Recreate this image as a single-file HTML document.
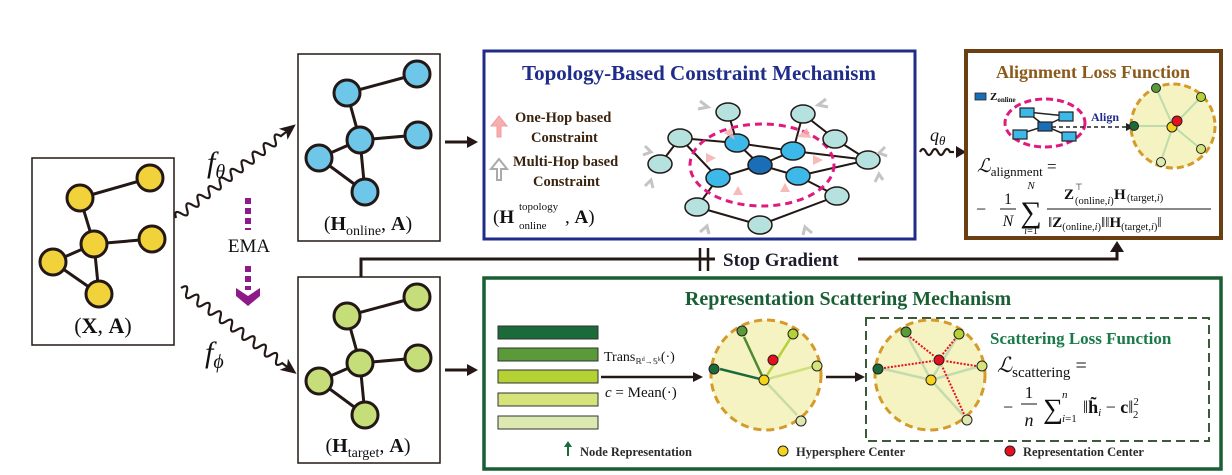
<!DOCTYPE html>
<html><head><meta charset="utf-8"><style>
html,body{margin:0;padding:0;background:#fff;}
svg{display:block;}
text{font-family:"Liberation Serif",serif;}
</style></head><body>
<svg width="1232" height="475" viewBox="0 0 1232 475" xmlns="http://www.w3.org/2000/svg">

<!-- Left input box -->
<rect x="32" y="158" width="142" height="187" fill="#fff" stroke="#231815" stroke-width="1.5"/>
<g stroke="#231815" stroke-width="3">
<line x1="80" y1="198" x2="150" y2="178"/><line x1="80" y1="198" x2="94" y2="244"/>
<line x1="94" y1="244" x2="152" y2="239"/><line x1="94" y1="244" x2="53" y2="262"/>
<line x1="94" y1="244" x2="99" y2="294"/><line x1="53" y1="262" x2="99" y2="294"/>
</g>
<g fill="#f1d23a" stroke="#231815" stroke-width="3">
<circle cx="80" cy="198" r="13"/><circle cx="150" cy="178" r="13"/><circle cx="94" cy="244" r="13"/>
<circle cx="152" cy="239" r="13"/><circle cx="53" cy="262" r="13"/><circle cx="99" cy="294" r="13"/>
</g>
<text x="103" y="333" font-size="22" text-anchor="middle" fill="#111">(<tspan font-weight="bold">X</tspan>, <tspan font-weight="bold">A</tspan>)</text>

<!-- Online box -->
<rect x="298" y="54" width="142" height="187" fill="#fff" stroke="#231815" stroke-width="1.5"/>
<g stroke="#231815" stroke-width="3">
<line x1="347" y1="93" x2="417" y2="74"/><line x1="347" y1="93" x2="360" y2="140"/>
<line x1="360" y1="140" x2="418" y2="135"/><line x1="360" y1="140" x2="319" y2="158"/>
<line x1="360" y1="140" x2="365" y2="192"/><line x1="319" y1="158" x2="365" y2="192"/>
</g>
<g fill="#6ec6e8" stroke="#231815" stroke-width="3">
<circle cx="347" cy="93" r="13"/><circle cx="417" cy="74" r="13"/><circle cx="360" cy="140" r="13"/>
<circle cx="418" cy="135" r="13"/><circle cx="319" cy="158" r="13"/><circle cx="365" cy="192" r="13"/>
</g>
<text x="368" y="230" font-size="20" text-anchor="middle" fill="#111">(<tspan font-weight="bold">H</tspan><tspan font-size="14" dy="5">online</tspan><tspan dy="-5">, </tspan><tspan font-weight="bold">A</tspan>)</text>

<!-- Target box -->
<rect x="298" y="277" width="142" height="186" fill="#fff" stroke="#231815" stroke-width="1.5"/>
<g stroke="#231815" stroke-width="3">
<line x1="347" y1="316" x2="417" y2="297"/><line x1="347" y1="316" x2="360" y2="363"/>
<line x1="360" y1="363" x2="418" y2="358"/><line x1="360" y1="363" x2="319" y2="381"/>
<line x1="360" y1="363" x2="365" y2="415"/><line x1="319" y1="381" x2="365" y2="415"/>
</g>
<g fill="#c5de7a" stroke="#231815" stroke-width="3">
<circle cx="347" cy="316" r="13"/><circle cx="417" cy="297" r="13"/><circle cx="360" cy="363" r="13"/>
<circle cx="418" cy="358" r="13"/><circle cx="319" cy="381" r="13"/><circle cx="365" cy="415" r="13"/>
</g>
<text x="368" y="452" font-size="20" text-anchor="middle" fill="#111">(<tspan font-weight="bold">H</tspan><tspan font-size="14" dy="5">target</tspan><tspan dy="-5">, </tspan><tspan font-weight="bold">A</tspan>)</text>

<!-- wavy arrows -->
<g fill="none" stroke="#231815" stroke-width="2.2">
<path transform="translate(176,218) rotate(-38)" d="M0,0 q3.5,-9 7,0 t7,0 t7,0 t7,0 t7,0 t7,0 t7,0 t7,0 t7,0 t7,0 t7,0 t7,0 t7,0 t7,0 t7,0 t7,0 t7,0 t7,0 t7,0 L140,0"/>
<path transform="translate(181,288) rotate(36.6)" d="M0,0 q3.5,-9 7,0 t7,0 t7,0 t7,0 t7,0 t7,0 t7,0 t7,0 t7,0 t7,0 t7,0 t7,0 t7,0 t7,0 t7,0 t7,0 t7,0 t7,0 L132,0"/>
<path transform="translate(920,152)" d="M0,0 q3,-6 6,0 t6,0 t6,0 t6,0 t6,0 L34,0"/>
</g>
<polygon transform="translate(176,218) rotate(-38)" points="136,-7 152,0 136,7 140,0" fill="#231815"/>
<polygon transform="translate(181,288) rotate(36.6)" points="128,-7 144,0 128,7 132,0" fill="#231815"/>
<polygon points="956,146 966,152 956,158" fill="#231815"/>
<text x="207" y="172" font-size="30" font-style="italic" fill="#111">f<tspan font-size="20" dy="6">θ</tspan></text>
<text x="205" y="362" font-size="30" font-style="italic" fill="#111">f<tspan font-size="20" dy="6">ϕ</tspan></text>
<text x="930" y="141" font-size="18" font-style="italic" fill="#111">q<tspan font-size="13" dy="4">θ</tspan></text>

<!-- EMA -->
<line x1="248" y1="198" x2="248" y2="230" stroke="#8e1a8a" stroke-width="6" stroke-dasharray="6,4"/>
<text x="249" y="252" font-size="19" text-anchor="middle" fill="#111">EMA</text>
<line x1="248" y1="266" x2="248" y2="290" stroke="#8e1a8a" stroke-width="6" stroke-dasharray="6,4"/>
<polygon points="236,288 248,296 260,288 260,296 248,306 236,296" fill="#8e1a8a"/>

<!-- arrows to mechanisms -->
<line x1="445" y1="142" x2="470" y2="142" stroke="#231815" stroke-width="3"/>
<polygon points="467,136 478,142 467,148" fill="#231815"/>
<line x1="445" y1="370" x2="470" y2="370" stroke="#231815" stroke-width="3"/>
<polygon points="467,364 478,370 467,376" fill="#231815"/>

<!-- Stop gradient -->
<polyline points="361,277 361,259 1117,259 1117,250" fill="none" stroke="#231815" stroke-width="3"/>
<polygon points="1110,252 1117,241 1124,252" fill="#231815"/>
<rect x="715" y="248" width="143" height="22" fill="#fff"/>
<line x1="700" y1="248" x2="700" y2="271" stroke="#231815" stroke-width="2.5"/>
<line x1="708" y1="248" x2="708" y2="271" stroke="#231815" stroke-width="2.5"/>
<text x="723" y="266" font-size="19" font-weight="bold" fill="#1c1c2c">Stop Gradient</text>

<!-- Topology box -->
<rect x="484" y="51" width="431" height="188" fill="#fff" stroke="#1f2c8a" stroke-width="3"/>
<text x="699" y="80" font-size="21" font-weight="bold" text-anchor="middle" fill="#1f2c8a">Topology-Based Constraint Mechanism</text>
<path d="M497,137 v-11 h-6 l8,-10 l8,10 h-6 v11 z" fill="#f6aeb0" stroke="#f39a9e" stroke-width="1"/>
<text x="515" y="122" font-size="14.5" font-weight="bold" fill="#3a2410">One-Hop based</text>
<text x="531" y="142" font-size="14.5" font-weight="bold" fill="#3a2410">Constraint</text>
<path d="M497,180 v-11 h-6 l8,-10 l8,10 h-6 v11 z" fill="#fff" stroke="#aaa" stroke-width="2"/>
<text x="513" y="166" font-size="14.5" font-weight="bold" fill="#3a2410">Multi-Hop based</text>
<text x="533" y="186" font-size="14.5" font-weight="bold" fill="#3a2410">Constraint</text>
<text x="493" y="223" font-size="19" fill="#111">(<tspan font-weight="bold">H</tspan></text>
<text x="519" y="210" font-size="11" fill="#111">topology</text>
<text x="519" y="229" font-size="11" fill="#111">online</text>
<text x="565" y="223" font-size="19" fill="#111">, <tspan font-weight="bold">A</tspan>)</text>
<g stroke="#231815" stroke-width="2">
<line x1="728" y1="112" x2="737" y2="143"/><line x1="803" y1="114" x2="793" y2="151"/>
<line x1="680" y1="138" x2="737" y2="143"/><line x1="680" y1="138" x2="660" y2="164"/>
<line x1="680" y1="138" x2="718" y2="178"/><line x1="737" y1="143" x2="760" y2="165"/>
<line x1="737" y1="143" x2="793" y2="151"/><line x1="793" y1="151" x2="760" y2="165"/>
<line x1="793" y1="151" x2="868" y2="160"/><line x1="835" y1="139" x2="868" y2="160"/>
<line x1="803" y1="114" x2="835" y2="139"/><line x1="760" y1="165" x2="718" y2="178"/>
<line x1="760" y1="165" x2="798" y2="176"/><line x1="798" y1="176" x2="868" y2="160"/>
<line x1="798" y1="176" x2="837" y2="196"/><line x1="718" y1="178" x2="697" y2="207"/>
<line x1="697" y1="207" x2="760" y2="225"/><line x1="760" y1="225" x2="837" y2="196"/>
</g>
<ellipse cx="762" cy="165" rx="72" ry="41" fill="none" stroke="#e0197f" stroke-width="3" stroke-dasharray="7,5"/>
<g stroke="#231815" stroke-width="1.5">
<g fill="#b5e1df">
<ellipse cx="728" cy="112" rx="12" ry="9"/><ellipse cx="803" cy="114" rx="12" ry="9"/>
<ellipse cx="680" cy="138" rx="12" ry="9"/><ellipse cx="835" cy="139" rx="12" ry="9"/>
<ellipse cx="660" cy="164" rx="12" ry="9"/><ellipse cx="868" cy="160" rx="12" ry="9"/>
<ellipse cx="697" cy="207" rx="12" ry="9"/><ellipse cx="837" cy="196" rx="12" ry="9"/>
<ellipse cx="760" cy="225" rx="12" ry="9"/>
</g>
<g fill="#3cb9e8">
<ellipse cx="737" cy="143" rx="12" ry="9"/><ellipse cx="793" cy="151" rx="12" ry="9"/>
<ellipse cx="718" cy="178" rx="12" ry="9"/><ellipse cx="798" cy="176" rx="12" ry="9"/>
</g>
<ellipse cx="760" cy="165" rx="12" ry="9" fill="#1a6eb5"/>
</g>
<g fill="#f6aeb0" opacity="0.85">
<polygon points="724,133 735,140 731,128"/><polygon points="807,128 797,137 811,138"/>
<polygon points="706,163 716,158 706,153"/><polygon points="823,160 813,155 813,165"/>
<polygon points="733,195 738,186 743,195"/><polygon points="780,192 785,183 790,192"/>
</g>
<g fill="none" stroke="#c4c4c4" stroke-width="3">
<path d="M700,101 l8,6 l-10,2"/><path d="M826,99 l-8,6 l10,2"/>
<path d="M645,146 l6,6 l-8,3"/><path d="M885,147 l-6,6 l8,3"/>
<path d="M645,186 l6,-6 l2,8"/><path d="M883,180 l-4,-6 l-4,8"/>
<path d="M700,232 l7,-6 l2,8"/><path d="M812,233 l-7,-6 l-2,8"/>
</g>

<!-- Alignment box -->
<rect x="966" y="51" width="255" height="187" fill="#fff" stroke="#6b3f12" stroke-width="4"/>
<text x="1093" y="78" font-size="18" font-weight="bold" text-anchor="middle" fill="#8b5a1a">Alignment Loss Function</text>
<rect x="975" y="93" width="11" height="7" fill="#1a6eb5" stroke="#222" stroke-width="0.8"/>
<text x="990" y="100" font-size="11" font-weight="bold" fill="#111">Z<tspan font-size="7" dy="2">online</tspan></text>
<ellipse cx="1045" cy="123" rx="40" ry="24" fill="none" stroke="#e0197f" stroke-width="3" stroke-dasharray="7,4"/>
<g stroke="#222" stroke-width="1.5">
<line x1="1027" y1="112" x2="1045" y2="126"/><line x1="1027" y1="112" x2="1066" y2="116"/>
<line x1="1045" y1="126" x2="1066" y2="116"/><line x1="1045" y1="126" x2="1020" y2="134"/>
<line x1="1045" y1="126" x2="1069" y2="136"/>
</g>
<g stroke="#222" stroke-width="1.2" fill="#3cb9e8">
<rect x="1020" y="108" width="14" height="9"/><rect x="1059" y="112" width="14" height="9"/>
<rect x="1013" y="130" width="14" height="9"/><rect x="1062" y="132" width="14" height="9"/>
<rect x="1038" y="122" width="14" height="9" fill="#1a6eb5"/>
</g>
<text x="1091" y="121" font-size="12" font-weight="bold" fill="#1f2c8a">Align</text>
<line x1="1052" y1="127" x2="1128" y2="127" stroke="#222" stroke-width="1.5" stroke-dasharray="4,3"/>
<polygon points="1126,123 1134,127 1126,131" fill="#222"/>
<circle cx="1173" cy="126" r="42" fill="#f6f3c3" stroke="#d49a2a" stroke-width="3" stroke-dasharray="7,4"/>
<g stroke="#bcdcaa" stroke-width="2">
<line x1="1173" y1="126" x2="1137" y2="126"/><line x1="1173" y1="126" x2="1157" y2="90"/>
<line x1="1173" y1="126" x2="1201" y2="97"/><line x1="1173" y1="126" x2="1201" y2="149"/>
<line x1="1173" y1="126" x2="1161" y2="161"/>
</g>
<g stroke="#222" stroke-width="1">
<circle cx="1134" cy="126" r="4.5" fill="#1a6a3a"/><circle cx="1156" cy="88" r="4.5" fill="#5a9a38"/>
<circle cx="1201" cy="97" r="4.5" fill="#b5d235"/><circle cx="1201" cy="149" r="4.5" fill="#d6e37a"/>
<circle cx="1161" cy="162" r="4.5" fill="#dce9b0"/>
<circle cx="1172" cy="127" r="5" fill="#f6d21a"/><circle cx="1177" cy="121" r="5" fill="#e8101e"/>
</g>
<text x="977" y="172" font-size="19" font-style="italic" fill="#111">ℒ<tspan font-style="normal" font-size="13" dy="4">alignment</tspan><tspan font-style="normal" font-size="17" dy="-4"> =</tspan></text>
<text x="976" y="215" font-size="18" fill="#111">−</text>
<text x="1008" y="204" font-size="16" text-anchor="middle" fill="#111">1</text>
<line x1="1000" y1="209" x2="1016" y2="209" stroke="#111" stroke-width="1"/>
<text x="1008" y="226" font-size="16" font-style="italic" text-anchor="middle" fill="#111">N</text>
<text x="1031" y="189" font-size="11" font-style="italic" text-anchor="middle" fill="#111">N</text>
<text x="1031" y="222" font-size="30" text-anchor="middle" fill="#111">∑</text>
<text x="1031" y="234" font-size="10" text-anchor="middle" fill="#111"><tspan font-style="italic">i</tspan>=1</text>
<line x1="1047" y1="209" x2="1211" y2="209" stroke="#111" stroke-width="1"/>
<text x="1064" y="199" font-size="15" fill="#111"><tspan font-weight="bold">Z</tspan></text>
<text x="1075" y="190" font-size="9" fill="#111">⊤</text>
<text x="1075" y="204" font-size="10.5" fill="#111">(online,<tspan font-style="italic">i</tspan>)</text>
<text x="1114" y="199" font-size="15" font-weight="bold" fill="#111">H</text>
<text x="1127" y="201" font-size="10.5" fill="#111">(target,<tspan font-style="italic">i</tspan>)</text>
<text x="1048" y="227" font-size="15" fill="#111">‖<tspan font-weight="bold">Z</tspan><tspan font-size="10.5" dy="3">(online,<tspan font-style="italic">i</tspan>)</tspan><tspan dy="-3">‖‖</tspan><tspan font-weight="bold">H</tspan><tspan font-size="10.5" dy="3">(target,<tspan font-style="italic">i</tspan>)</tspan><tspan dy="-3">‖</tspan></text>

<!-- Representation box -->
<rect x="484" y="278" width="737" height="191" fill="#fff" stroke="#1a5e34" stroke-width="3.5"/>
<text x="848" y="305" font-size="20" font-weight="bold" text-anchor="middle" fill="#1a5e34">Representation Scattering Mechanism</text>
<g stroke="#333" stroke-width="1">
<rect x="498" y="326" width="100" height="13" fill="#1a6a3a"/>
<rect x="498" y="348" width="100" height="13" fill="#5a9a38"/>
<rect x="498" y="370" width="100" height="13" fill="#b5d235"/>
<rect x="498" y="393" width="100" height="13" fill="#d6e37a"/>
<rect x="498" y="416" width="100" height="13" fill="#dce9b0"/>
</g>
<text x="604" y="361" font-size="14" fill="#111">Trans<tspan font-size="8" dy="3">ℝ</tspan><tspan font-size="6" dy="-3">d</tspan><tspan font-size="8" dy="3">→𝕊</tspan><tspan font-size="6" dy="-3">k</tspan><tspan font-size="14">(·)</tspan></text>
<line x1="601" y1="377" x2="695" y2="377" stroke="#231815" stroke-width="2.5"/>
<polygon points="693,372 703,377 693,382" fill="#231815"/>
<text x="605" y="397" font-size="15" fill="#111"><tspan font-style="italic">c</tspan> = Mean(·)</text>
<circle cx="766" cy="375" r="55" fill="#f6f3c3" stroke="#d49a2a" stroke-width="3" stroke-dasharray="8,5"/>
<g stroke-width="2.5">
<line x1="764" y1="380" x2="720" y2="369" stroke="#1a6a3a"/>
<line x1="764" y1="380" x2="744" y2="337" stroke="#4f8a30"/>
<line x1="764" y1="380" x2="790" y2="339" stroke="#b5d235"/>
<line x1="764" y1="380" x2="812" y2="367" stroke="#cfe07f"/>
<line x1="764" y1="380" x2="797" y2="415" stroke="#c9dca4"/>
</g>
<g stroke="#222" stroke-width="1">
<circle cx="714" cy="369" r="5" fill="#1a6a3a"/><circle cx="742" cy="331" r="5" fill="#5a9a38"/>
<circle cx="793" cy="334" r="5" fill="#b5d235"/><circle cx="817" cy="366" r="5" fill="#d6e37a"/>
<circle cx="801" cy="421" r="5" fill="#dce9b0"/>
<circle cx="764" cy="380" r="5" fill="#f6d21a"/><circle cx="773" cy="360" r="5" fill="#e8101e"/>
</g>
<line x1="826" y1="377" x2="857" y2="377" stroke="#231815" stroke-width="2.5"/>
<polygon points="855,372 865,377 855,382" fill="#231815"/>
<rect x="866" y="318" width="343" height="123" fill="none" stroke="#3a5a3a" stroke-width="2" stroke-dasharray="9,5"/>
<circle cx="930" cy="375" r="55" fill="#f6f3c3" stroke="#d49a2a" stroke-width="3" stroke-dasharray="8,5"/>
<g stroke="#c3dcae" stroke-width="2.5">
<line x1="931" y1="380" x2="884" y2="369"/><line x1="931" y1="380" x2="908" y2="337"/>
<line x1="931" y1="380" x2="956" y2="339"/><line x1="931" y1="380" x2="977" y2="367"/>
<line x1="931" y1="380" x2="963" y2="415"/>
</g>
<g stroke="#e8101e" stroke-width="2" stroke-dasharray="2,1.5">
<line x1="884" y1="368" x2="933" y2="361"/><line x1="910" y1="337" x2="934" y2="356"/>
<line x1="955" y1="339" x2="942" y2="355"/><line x1="976" y1="366" x2="945" y2="361"/>
<line x1="964" y1="414" x2="942" y2="366"/>
</g>
<g stroke="#222" stroke-width="1">
<circle cx="878" cy="369" r="5" fill="#1a6a3a"/><circle cx="906" cy="332" r="5" fill="#5a9a38"/>
<circle cx="959" cy="334" r="5" fill="#b5d235"/><circle cx="982" cy="366" r="5" fill="#d6e37a"/>
<circle cx="967" cy="420" r="5" fill="#dce9b0"/>
<circle cx="931" cy="380" r="5" fill="#f6d21a"/><circle cx="939" cy="360" r="5" fill="#e8101e"/>
</g>
<text x="990" y="344" font-size="17" font-weight="bold" fill="#1a7a4a">Scattering Loss Function</text>
<text x="997" y="372" font-size="21" font-style="italic" fill="#111">ℒ<tspan font-style="normal" font-size="15" dy="5">scattering</tspan><tspan font-style="normal" font-size="20" dy="-5"> =</tspan></text>
<text x="1003" y="413" font-size="18" fill="#111">−</text>
<text x="1029" y="398" font-size="17" text-anchor="middle" fill="#111">1</text>
<line x1="1021" y1="404" x2="1037" y2="404" stroke="#111" stroke-width="1"/>
<text x="1029" y="426" font-size="18" font-style="italic" text-anchor="middle" fill="#111">n</text>
<text x="1043" y="418" font-size="28" fill="#111">∑</text>
<text x="1062" y="398" font-size="11" font-style="italic" fill="#111">n</text>
<text x="1062" y="422" font-size="11" fill="#111"><tspan font-style="italic">i</tspan>=1</text>
<text x="1083" y="413" font-size="18" fill="#111">‖<tspan font-weight="bold">h̃</tspan><tspan font-size="11" font-style="italic" dy="3">i</tspan><tspan dy="-3"> − </tspan><tspan font-weight="bold">c</tspan>‖<tspan font-size="11" dy="-8">2</tspan><tspan font-size="11" dx="-6" dy="13">2</tspan></text>
<!-- legend -->
<line x1="568" y1="456" x2="568" y2="445" stroke="#1a6a3a" stroke-width="2"/>
<polygon points="564,447 568,441 572,447" fill="#1a6a3a"/>
<text x="580" y="456" font-size="12.5" font-weight="bold" fill="#2a2a2a">Node Representation</text>
<circle cx="783" cy="451" r="5" fill="#f6d21a" stroke="#222" stroke-width="1"/>
<text x="796" y="456" font-size="12.5" font-weight="bold" fill="#2a2a2a">Hypersphere Center</text>
<circle cx="1010" cy="451" r="5" fill="#e8101e" stroke="#222" stroke-width="1"/>
<text x="1023" y="456" font-size="12.5" font-weight="bold" fill="#2a2a2a">Representation Center</text>
</svg>
</body></html>
